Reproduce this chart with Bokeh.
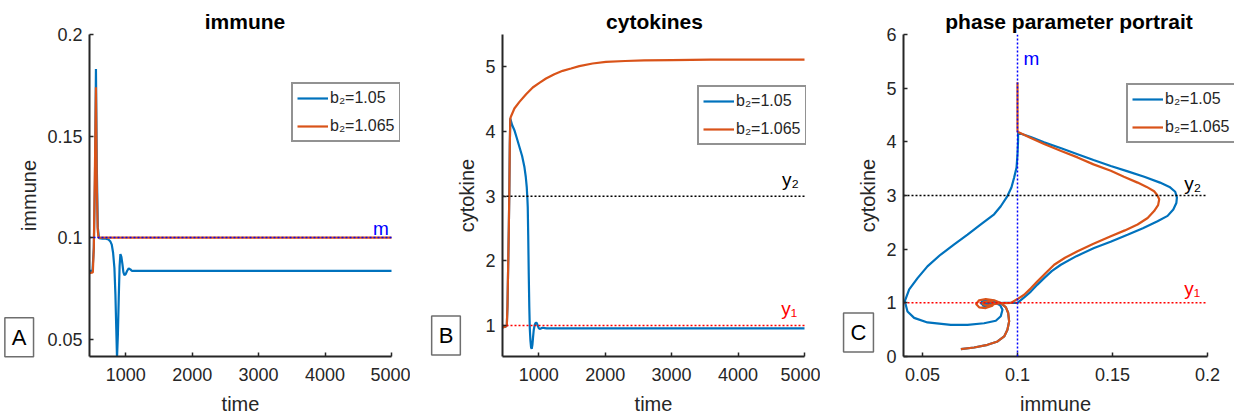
from bokeh.plotting import figure
from bokeh.layouts import row
from bokeh.models import Legend, LegendItem, Label, FixedTicker, Range1d, Span
from bokeh.embed import file_html
from bokeh.resources import INLINE

# ---------------- data ----------------
legend_labels = ["b\u2082=1.05", "b\u2082=1.065"]
m_level = 0.1
y1_level = 1.0
y2_level = 3.0
time_limits = [455, 5000]
immune_limits = [0.0414, 0.2]
cytokine_limits = [0.52, 5.5]
phase_x_limits = [0.04, 0.2]
phase_y_limits = [0, 6]

# Panel A: immune vs time
imm_t_blue = [455, 500, 520, 537, 552, 565, 580, 598, 650, 700, 740, 770, 790, 810, 830, 845, 858, 869,
              882, 895, 908, 920, 935, 950, 965, 980, 1000, 1020, 1045, 1070, 1095, 1120, 2000, 3000, 4000, 5000]
imm_blue = [0.0836, 0.0836, 0.095, 0.128, 0.183, 0.135, 0.105, 0.0997, 0.0995, 0.0994, 0.0990, 0.0980,
            0.0965, 0.0925, 0.0850, 0.072, 0.055, 0.0407, 0.052, 0.070, 0.086, 0.0918, 0.0905, 0.0870,
            0.0830, 0.0815, 0.0820, 0.0835, 0.0848, 0.0843, 0.0835, 0.0836, 0.0836, 0.0836, 0.0836, 0.0836]
imm_t_orange = [455, 505, 520, 537, 552, 565, 578, 590, 1000, 2000, 3000, 4000, 5000]
imm_orange = [0.0825, 0.0828, 0.095, 0.135, 0.174, 0.125, 0.104, 0.100, 0.100, 0.100, 0.100, 0.100, 0.100]

# Panel B: cytokine vs time
cyt_t_blue = [455, 500, 520, 530, 540, 550, 558, 565, 572, 600, 634, 670, 710, 750, 785, 805, 820, 830,
              835, 842, 850, 858, 866, 875, 885, 895, 905, 915, 925, 940, 955, 970, 985, 1000, 1015,
              1035, 1060, 1090, 1120, 2000, 3000, 4000, 5000]
cyt_blue = [0.97, 0.98, 1.0, 1.3, 1.9, 2.5, 3.1, 3.8, 4.2, 4.10, 4.02, 3.90, 3.76, 3.62, 3.45, 3.30, 3.14,
            2.95, 2.83, 2.4, 1.8, 1.3, 0.95, 0.77, 0.66, 0.64, 0.70, 0.82, 0.93, 1.01, 1.04, 1.04, 1.0,
            0.96, 0.945, 0.955, 0.965, 0.96, 0.955, 0.955, 0.955, 0.955, 0.955]
cyt_t_orange = [455, 500, 520, 530, 540, 550, 558, 565, 572, 584, 634, 710, 810, 910, 1010, 1110, 1235,
                1360, 1486, 1611, 1811, 2011, 2300, 2587, 3000, 3588, 4200, 5000]
cyt_orange = [0.97, 0.98, 1.0, 1.3, 1.9, 2.5, 3.1, 3.8, 4.2, 4.236, 4.355, 4.458, 4.577, 4.680, 4.752,
              4.819, 4.886, 4.938, 4.974, 5.010, 5.052, 5.077, 5.09, 5.10, 5.105, 5.11, 5.11, 5.11]

# Panel C: phase portrait (immune, cytokine)
ph_imm_blue = [0.0702, 0.0772, 0.0842, 0.0895, 0.0930, 0.0947, 0.0956, 0.0951, 0.0939, 0.0912, 0.0877,
               0.0842, 0.0815, 0.0807, 0.0825, 0.0855, 0.0862, 0.0845, 0.0835, 0.0880, 0.0930, 0.0965,
               0.1000, 0.1035, 0.1070, 0.1105, 0.1140, 0.1180, 0.1228, 0.1310, 0.1403, 0.1490, 0.1579,
               0.1660, 0.1737, 0.1790, 0.1820, 0.1836, 0.1839, 0.1830, 0.1800, 0.1750, 0.1667, 0.1580,
               0.1491, 0.1400, 0.1316, 0.1230, 0.1140, 0.1070, 0.1003, 0.1003, 0.1000, 0.0995, 0.0982,
               0.0968, 0.0947, 0.0912, 0.0877, 0.0807, 0.0737, 0.0667, 0.0596, 0.0526, 0.0474, 0.0430,
               0.0407, 0.0421, 0.0456, 0.0526, 0.0649, 0.0737, 0.0824, 0.0886, 0.0912, 0.0921, 0.0909,
               0.0886, 0.0851, 0.0821, 0.0816, 0.0838, 0.0863, 0.0860, 0.0846, 0.0836]
ph_cyt_blue = [0.137, 0.168, 0.218, 0.28, 0.374, 0.498, 0.654, 0.81, 0.916, 0.997, 1.035, 1.05, 1.03,
               0.99, 0.955, 0.96, 0.99, 1.005, 0.99, 0.99, 1.0, 1.0, 1.00, 1.10, 1.21, 1.34, 1.46, 1.59,
               1.71, 1.87, 2.02, 2.14, 2.27, 2.39, 2.52, 2.62, 2.74, 2.86, 2.96, 3.07, 3.16, 3.24, 3.35,
               3.45, 3.55, 3.66, 3.77, 3.88, 3.99, 4.09, 4.17, 4.02, 3.77, 3.52, 3.33, 3.15, 2.99, 2.80,
               2.65, 2.46, 2.27, 2.09, 1.90, 1.68, 1.46, 1.25, 1.03, 0.84, 0.72, 0.635, 0.59, 0.59, 0.62,
               0.667, 0.75, 0.87, 0.953, 0.997, 1.015, 0.99, 0.953, 0.93, 0.953, 0.99, 0.99, 0.955]
ph_imm_orange = [0.0702, 0.0772, 0.0842, 0.0895, 0.0930, 0.0947, 0.0956, 0.0951, 0.0939, 0.0912, 0.0877,
                 0.0833, 0.0798, 0.0782, 0.0798, 0.0833, 0.0868, 0.0877, 0.0856, 0.0824, 0.0816, 0.0833,
                 0.0851, 0.0900, 0.0965, 0.1000, 0.1035, 0.1070, 0.1105, 0.1150, 0.1193, 0.1250, 0.1316,
                 0.1400, 0.1491, 0.1565, 0.1632, 0.1685, 0.1719, 0.1740, 0.1746, 0.1735, 0.1719, 0.1680,
                 0.1632, 0.1560, 0.1491, 0.1400, 0.1316, 0.1230, 0.1140, 0.1070, 0.1000, 0.1000, 0.1000]
ph_cyt_orange = [0.137, 0.168, 0.218, 0.28, 0.374, 0.498, 0.654, 0.81, 0.916, 0.997, 1.047, 1.072, 1.047,
                 0.978, 0.916, 0.903, 0.947, 0.99, 1.03, 1.015, 0.978, 0.953, 0.96, 0.99, 1.00, 1.07, 1.15,
                 1.27, 1.40, 1.56, 1.71, 1.84, 1.96, 2.10, 2.24, 2.35, 2.46, 2.58, 2.71, 2.82, 2.93, 3.01,
                 3.08, 3.16, 3.24, 3.35, 3.46, 3.58, 3.71, 3.83, 3.96, 4.07, 4.19, 4.5, 5.11]

# ticks
time_ticks = [1000, 2000, 3000, 4000, 5000]
imm_ticks = [0.05, 0.1, 0.15, 0.2]
imm_tick_labels = ["0.05", "0.1", "0.15", "0.2"]
cyt_ticks_b = [1, 2, 3, 4, 5]
cyt_ticks_c = [0, 1, 2, 3, 4, 5, 6]

# ---------------- style ----------------
FONT = "Liberation Sans"
BLUE = "#0072BD"
ORANGE = "#D95319"
AX = "#262626"
FRAME_H = 322
AXIS_W = 302          # width of the drawn axes box (panels A, B)
AXIS_W_C = 304        # panel C
XLABEL_DROP = 47      # px from the bottom of the axes to the x label centre


def make_fig(left, frame_w, right, xr, yr, title, title_offset, margin=None):
    p = figure(frame_width=frame_w, frame_height=FRAME_H, x_range=xr, y_range=yr,
               output_backend="svg", toolbar_location=None,
               min_border_left=left, min_border_right=right,
               min_border_top=34, min_border_bottom=60, title=title, margin=margin)
    p.outline_line_color = None
    p.grid.visible = False
    p.title.align = "center"
    p.title.offset = title_offset
    p.title.text_font = FONT
    p.title.text_font_size = "21px"
    p.title.text_font_style = "bold"
    p.title.text_color = "black"
    p.title.standoff = 4
    for ax in (p.xaxis[0], p.yaxis[0]):
        ax.axis_line_color = AX
        ax.axis_line_width = 2
        ax.major_tick_line_color = AX
        ax.major_tick_line_width = 1.5
        ax.major_tick_in = 4
        ax.major_tick_out = 0
        ax.minor_tick_line_color = None
        ax.major_label_text_font = FONT
        ax.major_label_text_font_size = "18px"
        ax.major_label_text_color = AX
        ax.axis_label_text_font = FONT
        ax.axis_label_text_font_size = "20px"
        ax.axis_label_text_font_style = "normal"
        ax.axis_label_text_color = AX
    p.xaxis.major_label_standoff = 11
    p.xaxis.axis_label_standoff = 5
    p.yaxis.major_label_standoff = 7
    p.yaxis.axis_label_standoff = 4
    return p


def add_legend(p, rb, ro, loc):
    lg = Legend(items=[LegendItem(label=legend_labels[0], renderers=[rb]),
                       LegendItem(label=legend_labels[1], renderers=[ro])],
                location=loc)
    lg.border_line_color = AX
    lg.border_line_width = 2
    lg.label_text_font = FONT
    lg.label_text_font_size = "16px"
    lg.label_text_color = AX
    lg.glyph_width = 31
    lg.glyph_height = 20
    lg.label_height = 20
    lg.label_standoff = 2
    lg.padding = 4
    lg.spacing = 8
    lg.margin = 0
    lg.background_fill_color = "white"
    lg.background_fill_alpha = 1
    p.add_layout(lg)


def add_box_label(p, x, y, txt):
    # placed in the left side panel so that it is not clipped to the frame
    p.add_layout(Label(x=x, y=y, text=txt,
                       text_font=FONT, text_font_size="22px", text_color="black",
                       text_align="center", text_baseline="middle",
                       border_line_color="#6e6e6e", border_line_width=1.5,
                       background_fill_color="white", padding=7), "left")


def add_xlabel(p, xlim, ylim, txt):
    # x-axis title centred under the drawn (bounded) axis, in the bottom panel
    p.add_layout(Label(x=(xlim[0] + xlim[1]) / 2,
                       y=ylim[0] - XLABEL_DROP * (ylim[1] - ylim[0]) / FRAME_H, text=txt,
                       text_font=FONT, text_font_size="20px", text_color=AX,
                       text_align="center", text_baseline="middle"), "below")


def add_text(p, x, y, txt, color, align="left"):
    p.add_layout(Label(x=x, y=y, text=txt, text_font=FONT, text_font_size="19px",
                       text_color=color, text_align=align, text_baseline="alphabetic"))


def ref_hline(p, xlim, level, color):
    p.line(xlim, [level, level], line_color=color, line_dash="2 2", line_width=1.5)


t_span = time_limits[1] - time_limits[0]

# ---------------- Panel A ----------------
fw_a = 311
xr_a = Range1d(time_limits[0], time_limits[0] + t_span * fw_a / AXIS_W)
pa = make_fig(105, fw_a, 10, xr_a, Range1d(*immune_limits), "immune", -4, margin=(0, 0, 0, -16))
rb = pa.line(imm_t_blue, imm_blue, line_color=BLUE, line_width=2.2)
ro = pa.line(imm_t_orange, imm_orange, line_color=ORANGE, line_width=2.2)
ref_hline(pa, time_limits, m_level, "blue")
pa.xaxis.bounds = tuple(time_limits)
pa.xaxis.ticker = FixedTicker(ticks=time_ticks)
pa.yaxis.ticker = FixedTicker(ticks=imm_ticks)
pa.yaxis.major_label_overrides = dict(zip(imm_ticks, imm_tick_labels))
pa.yaxis.axis_label = "immune"
add_xlabel(pa, time_limits, immune_limits, "time")
add_legend(pa, rb, ro, (202, 214))
add_text(pa, 4839, 0.1043, "m", "blue", align="center")
add_box_label(pa, time_limits[0] - 70.3 * t_span / AXIS_W,
              immune_limits[0] + 19.3 * (immune_limits[1] - immune_limits[0]) / FRAME_H, "A")

# ---------------- Panel B ----------------
fw_b = 304
xr_b = Range1d(time_limits[0], time_limits[0] + t_span * fw_b / AXIS_W)
pb = make_fig(92, fw_b, 14, xr_b, Range1d(*cytokine_limits), "cytokines", -1)
rb2 = pb.line(cyt_t_blue, cyt_blue, line_color=BLUE, line_width=2.2)
ro2 = pb.line(cyt_t_orange, cyt_orange, line_color=ORANGE, line_width=2.2)
ref_hline(pb, time_limits, y2_level, "black")
ref_hline(pb, time_limits, y1_level, "red")
pb.xaxis.bounds = tuple(time_limits)
pb.xaxis.ticker = FixedTicker(ticks=time_ticks)
pb.yaxis.ticker = FixedTicker(ticks=cyt_ticks_b)
pb.yaxis.axis_label = "cytokine"
add_xlabel(pb, time_limits, cytokine_limits, "time")
add_legend(pb, rb2, ro2, (195, 211))
add_text(pb, 4660, 3.25, "y\u2082", "black")
add_text(pb, 4650, 1.26, "y\u2081", "red")
add_box_label(pb, time_limits[0] - 56.5 * t_span / AXIS_W,
              cytokine_limits[0] + 21 * (cytokine_limits[1] - cytokine_limits[0]) / FRAME_H, "B")

# ---------------- Panel C ----------------
fw_c = 331
px_span = phase_x_limits[1] - phase_x_limits[0]
xr_c = Range1d(phase_x_limits[0], phase_x_limits[0] + px_span * fw_c / AXIS_W_C)
pc = make_fig(83, fw_c, 0, xr_c, Range1d(*phase_y_limits), "phase parameter portrait", -13)
rb3 = pc.line(ph_imm_blue, ph_cyt_blue, line_color=BLUE, line_width=2.2)
ro3 = pc.line(ph_imm_orange, ph_cyt_orange, line_color=ORANGE, line_width=2.2)
ref_hline(pc, phase_x_limits, y2_level, "black")
ref_hline(pc, phase_x_limits, y1_level, "red")
pc.add_layout(Span(location=m_level, dimension="height", line_color="blue", line_dash="2 2", line_width=1.5))
pc.xaxis.bounds = tuple(phase_x_limits)
pc.xaxis.ticker = FixedTicker(ticks=imm_ticks)
pc.xaxis.major_label_overrides = dict(zip(imm_ticks, imm_tick_labels))
pc.yaxis.ticker = FixedTicker(ticks=cyt_ticks_c)
pc.yaxis.axis_label = "cytokine"
add_xlabel(pc, phase_x_limits, phase_y_limits, "immune")
add_legend(pc, rb3, ro3, (223, 213))
add_text(pc, 0.1032, 5.56, "m", "blue")
add_text(pc, 0.1877, 3.23, "y\u2082", "black")
add_text(pc, 0.1877, 1.27, "y\u2081", "red")
add_box_label(pc, phase_x_limits[0] - 45 * px_span / AXIS_W_C,
              phase_y_limits[0] + 24 * (phase_y_limits[1] - phase_y_limits[0]) / FRAME_H, "C")

layout = row(pa, pb, pc)
with open("out.html", "w") as f:
    f.write(file_html(layout, INLINE))
